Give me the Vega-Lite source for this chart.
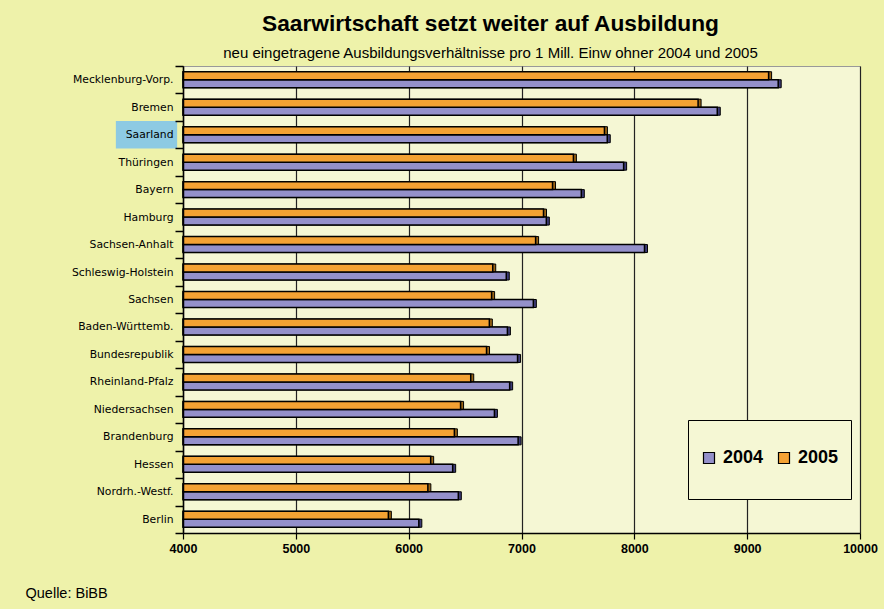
{
  "$schema": "https://vega.github.io/schema/vega-lite/v6.json",
  "width": 677,
  "height": 467,
  "autosize": {"type": "none"},
  "padding": {"left": 183, "top": 66, "right": 24, "bottom": 76},
  "background": "#EEF2AA",
  "title": {
    "text": "Saarwirtschaft setzt weiter auf Ausbildung",
    "subtitle": "neu eingetragene Ausbildungsverhältnisse pro 1 Mill. Einw ohner 2004 und 2005",
    "font": "Liberation Sans",
    "fontSize": 22.7,
    "fontWeight": "bold",
    "color": "black",
    "subtitleFont": "Liberation Sans",
    "subtitleFontSize": 15,
    "subtitleColor": "black",
    "subtitlePadding": 10,
    "anchor": "middle",
    "frame": "group",
    "dx": -31,
    "offset": -1
  },
  "data": {
    "values": [
      {"land": "Mecklenburg-Vorp.", "year": "2004", "value": 9275},
      {"land": "Mecklenburg-Vorp.", "year": "2005", "value": 9190},
      {"land": "Bremen", "year": "2004", "value": 8735},
      {"land": "Bremen", "year": "2005", "value": 8565},
      {"land": "Saarland", "year": "2004", "value": 7760},
      {"land": "Saarland", "year": "2005", "value": 7735},
      {"land": "Thüringen", "year": "2004", "value": 7905},
      {"land": "Thüringen", "year": "2005", "value": 7460},
      {"land": "Bayern", "year": "2004", "value": 7530},
      {"land": "Bayern", "year": "2005", "value": 7275},
      {"land": "Hamburg", "year": "2004", "value": 7220},
      {"land": "Hamburg", "year": "2005", "value": 7195},
      {"land": "Sachsen-Anhalt", "year": "2004", "value": 8090},
      {"land": "Sachsen-Anhalt", "year": "2005", "value": 7125},
      {"land": "Schleswig-Holstein", "year": "2004", "value": 6865},
      {"land": "Schleswig-Holstein", "year": "2005", "value": 6745},
      {"land": "Sachsen", "year": "2004", "value": 7105},
      {"land": "Sachsen", "year": "2005", "value": 6735},
      {"land": "Baden-Württemb.", "year": "2004", "value": 6875},
      {"land": "Baden-Württemb.", "year": "2005", "value": 6715},
      {"land": "Bundesrepublik", "year": "2004", "value": 6965},
      {"land": "Bundesrepublik", "year": "2005", "value": 6690},
      {"land": "Rheinland-Pfalz", "year": "2004", "value": 6895},
      {"land": "Rheinland-Pfalz", "year": "2005", "value": 6550},
      {"land": "Niedersachsen", "year": "2004", "value": 6760},
      {"land": "Niedersachsen", "year": "2005", "value": 6460},
      {"land": "Brandenburg", "year": "2004", "value": 6970},
      {"land": "Brandenburg", "year": "2005", "value": 6405},
      {"land": "Hessen", "year": "2004", "value": 6390},
      {"land": "Hessen", "year": "2005", "value": 6195},
      {"land": "Nordrh.-Westf.", "year": "2004", "value": 6440},
      {"land": "Nordrh.-Westf.", "year": "2005", "value": 6170},
      {"land": "Berlin", "year": "2004", "value": 6090},
      {"land": "Berlin", "year": "2005", "value": 5820}
    ]
  },
  "encoding": {
    "y": {
      "field": "land",
      "type": "nominal",
      "sort": ["Mecklenburg-Vorp.", "Bremen", "Saarland", "Thüringen", "Bayern", "Hamburg", "Sachsen-Anhalt", "Schleswig-Holstein", "Sachsen", "Baden-Württemb.", "Bundesrepublik", "Rheinland-Pfalz", "Niedersachsen", "Brandenburg", "Hessen", "Nordrh.-Westf.", "Berlin"],
      "scale": {"paddingInner": 0, "paddingOuter": 0},
      "axis": {
        "title": null,
        "tickBand": "extent",
        "grid": false,
        "domainColor": "black",
        "domainWidth": 1.5,
        "tickColor": "black",
        "tickWidth": 1.5,
        "tickSize": 8,
        "labelPadding": 2,
        "labelFont": "DejaVu Sans",
        "labelFontSize": 10.8,
        "labelColor": "black",
        "zindex": 1
      }
    }
  },
  "layer": [
    {
      "transform": [{"filter": "datum.land == 'Saarland' && datum.year == '2004'"}],
      "mark": {"type": "bar", "color": "#8DCAE3", "clip": false},
      "encoding": {
        "x": {"datum": 3405, "type": "quantitative", "title": "Quelle: BiBB", "scale": {"domain": [4000, 10000], "zero": false, "nice": false}},
        "x2": {"datum": 3948}
      }
    },
    {
      "mark": {"type": "bar", "stroke": "black", "strokeWidth": 1, "xOffset": 3, "yOffset": -2},
      "encoding": {
        "yOffset": {"field": "year", "type": "nominal", "sort": ["2005", "2004"], "scale": {"paddingInner": 0, "paddingOuter": 0.72}},
        "x": {"field": "value", "type": "quantitative", "title": "Quelle: BiBB", "scale": {"domain": [4000, 10000], "zero": false, "nice": false}},
        "x2": {"datum": 4000},
        "fill": {
          "field": "year",
          "type": "nominal",
          "scale": {"domain": ["2004", "2005"], "range": ["#3E3C78", "#9A6414"]},
          "legend": null
        }
      }
    },
    {
      "mark": {"type": "bar", "stroke": "black", "strokeWidth": 1.5},
      "encoding": {
        "yOffset": {"field": "year", "type": "nominal", "sort": ["2005", "2004"], "scale": {"paddingInner": 0, "paddingOuter": 0.72}},
        "x": {
          "field": "value",
          "type": "quantitative",
          "title": "Quelle: BiBB",
          "scale": {"domain": [4000, 10000], "zero": false, "nice": false},
          "axis": {
            "values": [4000, 5000, 6000, 7000, 8000, 9000, 10000],
            "format": "d",
            "labelFont": "Liberation Sans",
            "labelFontWeight": "bold",
            "labelFontSize": 12.5,
            "labelColor": "black",
            "labelFlush": false,
            "labelPadding": 3,
            "tickSize": 6,
            "tickColor": "black",
            "tickWidth": 1.2,
            "domainColor": "black",
            "domainWidth": 1.5,
            "grid": true,
            "gridColor": "#222222",
            "gridWidth": 1.2,
            "titleFont": "Liberation Sans",
            "titleFontSize": 14.5,
            "titleFontWeight": "normal",
            "titleColor": "black",
            "titleAlign": "left",
            "titleAnchor": "start",
            "titleBaseline": "alphabetic",
            "titleX": -158,
            "titleY": 64
          }
        },
        "x2": {"datum": 4000},
        "color": {
          "field": "year",
          "type": "nominal",
          "scale": {"domain": ["2004", "2005"], "range": ["#9490CA", "#F4A233"]},
          "legend": {
            "title": " ",
            "titleFontSize": 10,
            "titlePadding": 7,
            "orient": "none",
            "legendX": 505,
            "legendY": 354,
            "direction": "horizontal",
            "fillColor": "#F5F7D4",
            "strokeColor": "black",
            "padding": 12,
            "symbolType": "square",
            "symbolSize": 121,
            "symbolStrokeColor": "black",
            "symbolStrokeWidth": 1.2,
            "symbolOpacity": 1,
            "labelFont": "Liberation Sans",
            "labelFontSize": 18,
            "labelFontWeight": "bold",
            "labelColor": "black",
            "labelOffset": 5,
            "labelExpr": "[datum.label, '']",
            "columnPadding": 11
          }
        }
      }
    }
  ],
  "resolve": {"scale": {"fill": "independent", "color": "independent"}},
  "config": {
    "view": {"fill": "#F5F7D4", "stroke": "#999999"}
  }
}
